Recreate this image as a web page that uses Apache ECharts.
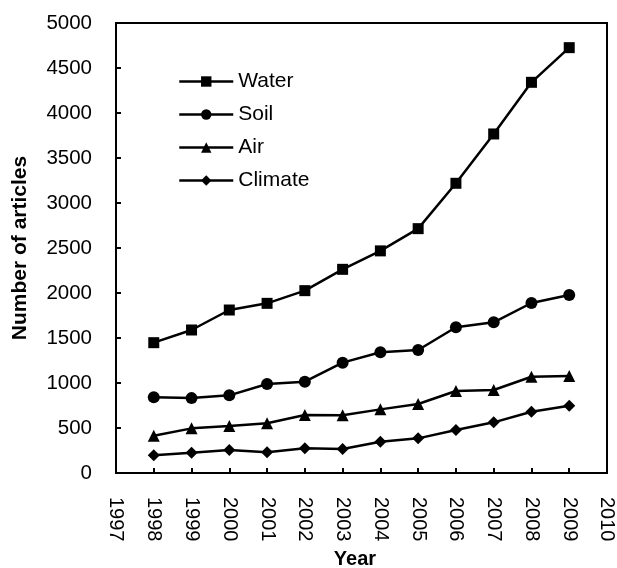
<!DOCTYPE html>
<html>
<head>
<meta charset="utf-8">
<script src="https://cdn.jsdelivr.net/npm/echarts@6/dist/echarts.min.js"></script>
<style>html,body{margin:0;padding:0;background:#fff}#c{width:617px;height:568px}</style>
</head>
<body>
<div id="c"></div>
<script>
const years = [1998,1999,2000,2001,2002,2003,2004,2005,2006,2007,2008,2009];
const water = [1448,1589,1811,1885,2026,2263,2468,2715,3219,3767,4341,4726];
const soil = [841,832,863,989,1015,1226,1341,1367,1619,1674,1889,1978];
const air = [415,496,522,552,644,641,707,767,911,922,1070,1078];
const climate = [196,226,256,230,274,267,348,385,478,563,681,748];
const xTicks = {min:1997, max:2010, step:1};
const yTicks = {min:0, max:5000, step:500};

const FONT = 'Liberation Sans, Arial, sans-serif';
function mk(name, vals, symbol, size){
  return {
    name, type:'line', data: years.map((y,i)=>[y, vals[i]]),
    symbol, symbolSize: size, showSymbol:true,
    lineStyle:{color:'#000', width:2.5}, itemStyle:{color:'#000'},
    emphasis:{disabled:true}, animation:false
  };
}
const chart = echarts.init(document.getElementById('c'));
chart.setOption({
  animation:false,
  backgroundColor:'#fff',
  grid:{left:116, right:10, top:23, bottom:95, show:true, borderColor:'#000', borderWidth:2,
        backgroundColor:'transparent', containLabel:false, outerBoundsMode:'none'},
  legend:{
    orient:'vertical', left:178, top:71, padding:0, itemWidth:54, itemHeight:13, itemGap:12,
    lineStyle:{width:2.5, color:'#000'},
    textStyle:{fontFamily:FONT, fontSize:21, color:'#000', lineHeight:21},
    data:['Water','Soil','Air','Climate']
  },
  xAxis:{
    type:'value', min:xTicks.min, max:xTicks.max, interval:xTicks.step,
    name:'Year', nameLocation:'middle', nameGap:75,
    nameTextStyle:{fontFamily:FONT, fontSize:20, fontWeight:'bold', color:'#000', padding:[0,13,0,0]},
    axisLine:{lineStyle:{color:'#000', width:2}},
    axisTick:{inside:true, length:5, lineStyle:{color:'#000', width:2}},
    axisLabel:{rotate:-90, margin:24, fontFamily:FONT, fontSize:20, color:'#000', formatter:v=>String(v)},
    splitLine:{show:false}
  },
  yAxis:{
    type:'value', min:yTicks.min, max:yTicks.max, interval:yTicks.step,
    name:'Number of articles', nameLocation:'middle', nameGap:85, nameRotate:90,
    nameTextStyle:{fontFamily:FONT, fontSize:21, fontWeight:'bold', color:'#000'},
    axisLine:{show:true, lineStyle:{color:'#000', width:2}},
    axisTick:{show:true, inside:true, length:5, lineStyle:{color:'#000', width:2}},
    axisLabel:{margin:24, fontFamily:FONT, fontSize:20.5, color:'#000', formatter:v=>String(v)},
    splitLine:{show:false}
  },
  series:[
    mk('Water', water, 'rect', 11),
    mk('Soil', soil, 'circle', 12),
    mk('Air', air, 'triangle', 12),
    mk('Climate', climate, 'diamond', 12)
  ]
});
</script>
</body>
</html>
